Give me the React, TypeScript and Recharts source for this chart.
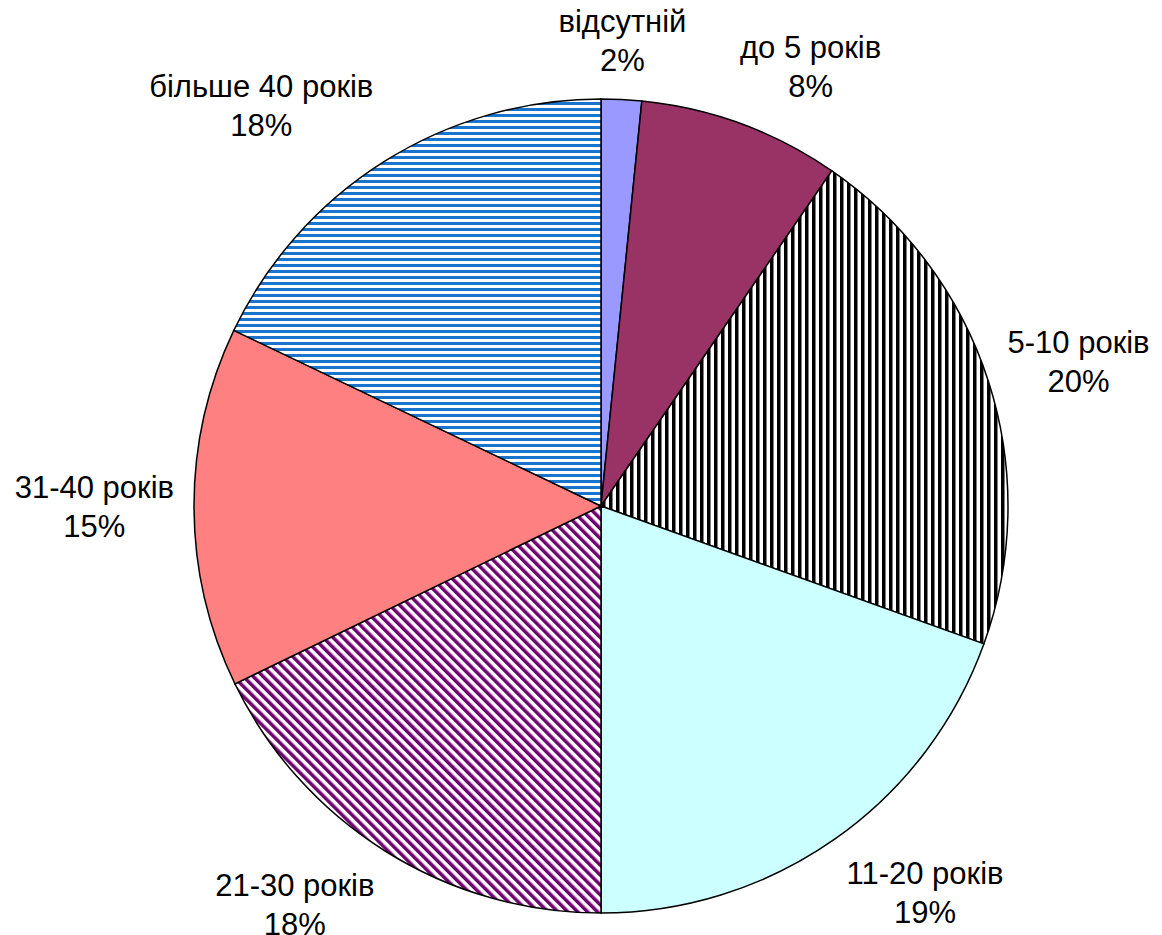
import React from 'react';
import { PieChart, Pie, Cell } from 'recharts';

const categories = ['відсутній', 'до 5 років', '5-10 років', '11-20 років', '21-30 років', '31-40 років', 'більше 40 років'];
const shares = [1.6, 8.0, 20.9, 19.5, 17.8, 14.3, 17.9];
const percentLabels = ['2%', '8%', '20%', '19%', '18%', '15%', '18%'];

const fills = ['#9999FF', '#993366', 'url(#pVert)', '#CCFFFF', 'url(#pDiag)', '#FF8080', 'url(#pHoriz)'];

const data = categories.map((name, i) => ({ name, value: shares[i] }));

const FS = 31;
const LH = 39;
let ctx: CanvasRenderingContext2D | null = null;
function measure(s: string): number {
  if (!ctx) ctx = document.createElement('canvas').getContext('2d');
  if (!ctx) return s.length * FS * 0.55;
  ctx.font = `${FS}px "Liberation Sans"`;
  return ctx.measureText(s).width;
}

const renderLabel = (props: any) => {
  const { cx, cy, midAngle, outerRadius, index } = props;
  const rad = Math.PI / 180;
  const ux = Math.cos(-midAngle * rad);
  const uy = Math.sin(-midAngle * rad);
  const R = outerRadius + 20;
  const px = cx + R * ux;
  const py = cy + R * uy;
  const w = Math.max(measure(categories[index]), measure(percentLabels[index]));
  const h = 76;
  const f = (t: number) => Math.sign(t) * Math.min(1, Math.pow(Math.abs(t) / 0.35, 8));
  const bx = px + (f(ux) * w) / 2;
  const by = py + (f(uy) * h) / 2;
  return (
    <text
      key={`lbl-${index}`}
      x={bx}
      y={by - 9.5}
      textAnchor="middle"
      fontFamily='"Liberation Sans", Arial, sans-serif'
      fontSize={FS}
      fill="#000"
    >
      <tspan x={bx}>{categories[index]}</tspan>
      <tspan x={bx} dy={LH}>{percentLabels[index]}</tspan>
    </text>
  );
};

export default function App() {
  return (
    <div style={{ position: 'absolute', left: 0, top: 0, width: 1162, height: 935, background: '#fff' }}>
      <PieChart width={1162} height={935} margin={{ top: 0, right: 0, bottom: 0, left: 0 }}>
        <defs>
          <pattern id="pVert" width="7" height="7" patternUnits="userSpaceOnUse">
            <rect width="7" height="7" fill="#fff" />
            <rect x="0" y="0" width="3.5" height="7" fill="#000" />
          </pattern>
          <pattern id="pHoriz" width="6" height="6" patternUnits="userSpaceOnUse">
            <rect width="6" height="6" fill="#fff" />
            <rect x="0" y="0" width="6" height="3" fill="#1874CD" />
          </pattern>
          <pattern id="pDiag" width="7" height="7" patternUnits="userSpaceOnUse" patternTransform="rotate(-45)">
            <rect width="7" height="7" fill="#fff" />
            <rect x="0" y="0" width="3.5" height="7" fill="#700070" />
          </pattern>
        </defs>
        <Pie
          data={data}
          dataKey="value"
          nameKey="name"
          cx={601}
          cy={506}
          outerRadius={407}
          startAngle={90}
          endAngle={-270}
          stroke="#000"
          strokeWidth={1.5}
          label={renderLabel}
          labelLine={false}
          isAnimationActive={false}
        >
          {data.map((d, i) => (
            <Cell key={d.name} fill={fills[i]} stroke="#000" strokeWidth={1.5} />
          ))}
        </Pie>
      </PieChart>
    </div>
  );
}
